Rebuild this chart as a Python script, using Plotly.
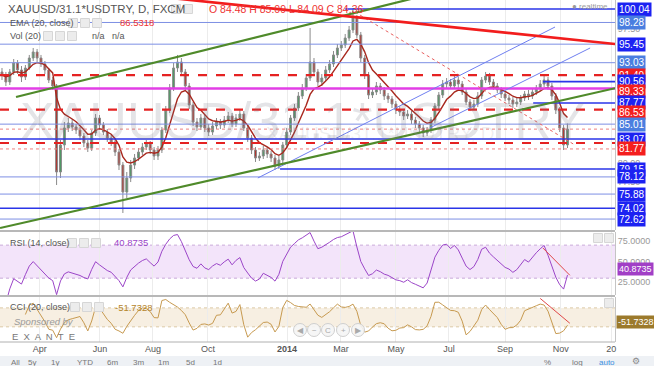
import plotly.graph_objects as go
import pandas as pd
import numpy as np

# ---------------- data (3-session bars) ----------------
opens = [91.82, 91.42, 90.51, 91.82, 92.99, 92.08, 91.16, 92.34, 93.64, 94.43,
         93.64, 92.86, 92.08, 90.77, 89.99, 78.76, 82.29, 84.51, 85.16, 84.64,
         84.24, 83.46, 82.55, 81.89, 83.85, 85.81, 84.90, 83.98, 83.20, 82.68,
         81.37, 79.67, 76.15, 77.98, 79.67, 80.59, 81.37, 82.02, 82.42, 81.63,
         80.85, 81.63, 84.24, 86.85, 89.73, 92.34, 93.12, 91.82, 89.99, 87.51,
         85.29, 84.64, 85.81, 84.51, 83.98, 84.77, 85.29, 84.90, 85.55, 86.07,
         85.03, 85.81, 86.33, 84.51, 83.20, 81.63, 80.59, 80.85, 81.63, 81.11,
         80.59, 79.54, 80.33, 82.29, 83.98, 85.81, 87.12, 88.68, 89.73, 91.03,
         93.12, 91.82, 90.51, 91.03, 92.08, 92.86, 94.04, 94.95, 95.34, 96.25,
         97.30, 98.87, 96.65, 93.64, 91.42, 88.81, 89.20, 89.99, 89.47, 88.68,
         88.29, 87.64, 86.85, 86.59, 86.07, 86.33, 85.55, 85.03, 84.51, 83.85,
         84.24, 85.55, 87.38, 88.81, 90.25, 90.51, 89.99, 90.77, 90.25, 89.20,
         87.90, 87.25, 87.64, 88.68, 90.77, 91.29, 90.51, 89.99, 89.47, 88.94,
         88.42, 88.16, 87.64, 87.90, 88.42, 88.94, 88.68, 89.20, 89.73, 90.25,
         90.77, 89.99, 88.68, 86.85, 84.51, 82.29]
highs = [92.34, 91.82, 92.21, 93.51, 93.38, 92.60, 92.73, 94.04, 94.95, 94.82,
         94.04, 93.25, 92.34, 91.16, 90.25, 82.94, 85.29, 85.81, 85.68, 85.03,
         84.64, 83.85, 82.94, 84.24, 86.33, 86.20, 85.29, 84.37, 83.59, 83.07,
         81.76, 80.07, 78.76, 80.33, 81.11, 81.89, 82.55, 82.94, 82.81, 82.02,
         82.16, 84.64, 87.38, 90.25, 92.99, 94.04, 93.64, 92.21, 90.38, 87.90,
         85.81, 86.33, 86.20, 85.03, 85.29, 85.81, 85.68, 86.07, 86.59, 86.46,
         86.33, 86.85, 86.72, 84.90, 83.59, 82.02, 81.37, 82.16, 82.02, 81.50,
         80.98, 80.85, 82.68, 84.51, 86.20, 87.64, 89.20, 90.25, 91.55, 97.56,
         93.64, 92.21, 91.55, 92.60, 93.38, 94.56, 95.47, 95.86, 96.78, 97.82,
         100.17, 99.26, 97.04, 94.04, 91.82, 89.73, 90.51, 90.38, 89.86, 89.07,
         88.68, 88.03, 87.38, 86.98, 86.85, 86.72, 85.94, 85.42, 84.90, 84.64,
         85.94, 87.77, 89.20, 90.77, 91.03, 90.90, 91.29, 91.16, 90.64, 89.59,
         88.29, 88.16, 89.20, 91.16, 91.82, 91.69, 90.90, 90.38, 89.86, 89.33,
         88.81, 88.55, 88.42, 88.81, 89.33, 89.47, 89.73, 90.12, 90.77, 91.29,
         91.16, 90.38, 89.07, 87.25, 84.90, 85.09]
lows = [90.77, 89.99, 90.12, 91.42, 91.55, 90.51, 90.77, 92.08, 93.25, 93.12,
        92.47, 91.55, 90.38, 89.47, 77.06, 77.98, 81.63, 83.98, 84.11, 83.72,
        82.94, 82.02, 81.37, 81.50, 83.46, 84.51, 83.59, 82.68, 82.16, 80.85,
        79.02, 73.41, 75.37, 77.45, 79.15, 80.20, 80.98, 81.63, 81.11, 80.33,
        80.33, 81.24, 83.85, 86.46, 89.33, 91.82, 91.29, 89.47, 86.98, 84.77,
        84.11, 84.24, 83.98, 83.46, 83.59, 84.37, 84.37, 84.51, 85.16, 84.64,
        84.64, 85.42, 84.11, 82.68, 81.11, 80.07, 80.20, 80.46, 80.59, 80.07,
        79.02, 79.15, 79.94, 81.89, 83.59, 85.42, 86.72, 88.29, 89.33, 90.64,
        91.29, 89.99, 89.99, 90.64, 91.69, 92.47, 93.64, 94.56, 94.95, 95.86,
        96.90, 96.25, 93.12, 90.90, 88.29, 88.42, 88.81, 88.94, 88.16, 87.77,
        87.12, 86.33, 86.07, 85.55, 85.68, 85.03, 84.51, 83.98, 83.33, 83.46,
        83.85, 85.16, 86.98, 88.42, 89.73, 89.59, 89.59, 89.73, 88.81, 87.51,
        86.72, 86.85, 87.25, 88.29, 90.38, 90.12, 89.47, 89.07, 88.42, 88.03,
        87.64, 87.12, 87.25, 87.51, 88.03, 88.16, 88.29, 88.81, 89.33, 89.86,
        89.47, 88.16, 86.33, 83.98, 81.63, 81.89]
closes = [91.42, 90.51, 91.82, 92.99, 92.08, 91.16, 92.34, 93.64, 94.43, 93.64,
          92.86, 92.08, 90.77, 89.99, 78.76, 82.29, 84.51, 85.16, 84.64, 84.24,
          83.46, 82.55, 81.89, 83.85, 85.81, 84.90, 83.98, 83.20, 82.68, 81.37,
          79.67, 76.15, 77.98, 79.67, 80.59, 81.37, 82.02, 82.42, 81.63, 80.85,
          81.63, 84.24, 86.85, 89.73, 92.34, 93.12, 91.82, 89.99, 87.51, 85.29,
          84.64, 85.81, 84.51, 83.98, 84.77, 85.29, 84.90, 85.55, 86.07, 85.03,
          85.81, 86.33, 84.51, 83.20, 81.63, 80.59, 80.85, 81.63, 81.11, 80.59,
          79.54, 80.33, 82.29, 83.98, 85.81, 87.12, 88.68, 89.73, 91.03, 93.12,
          91.82, 90.51, 91.03, 92.08, 92.86, 94.04, 94.95, 95.34, 96.25, 97.30,
          98.87, 96.65, 93.64, 91.42, 88.81, 89.20, 89.99, 89.47, 88.68, 88.29,
          87.64, 86.85, 86.59, 86.07, 86.33, 85.55, 85.03, 84.51, 83.85, 84.24,
          85.55, 87.38, 88.81, 90.25, 90.51, 89.99, 90.77, 90.25, 89.20, 87.90,
          87.25, 87.64, 88.68, 90.77, 91.29, 90.51, 89.99, 89.47, 88.94, 88.42,
          88.16, 87.64, 87.90, 88.42, 88.94, 88.68, 89.20, 89.73, 90.25, 90.77,
          89.99, 88.68, 86.85, 84.51, 82.29, 84.36]

tick_pos = [9.7, 25.1, 38.7, 52.8, 73.1, 86.9, 101.0, 114.6, 129.0, 143.3, 156.2]
tick_text = ['Apr', 'Jun', 'Aug', 'Oct', '<b>2014</b>', 'Mar', 'May', 'Jul', 'Sep', 'Nov', '20']

# price-scale labels on the right
label_values = [100.04, 98.28, 95.45, 93.03, 91.40, 90.56, 89.33, 87.77, 86.53,
                85.01, 83.07, 81.77, 79.15, 78.12, 75.88, 74.02, 72.62]
label_kinds = ['d', 'l', 'd', 'l', 'r', 'd', 'r', 'd', 'r',
               'l', 'd', 'r', 'd', 'd', 'd', 'd', 'd']
grey_ticks = [75.0, 77.5, 80.0, 97.5]

# horizontal drawing levels: (price, start bar)
blue_levels = [(100.04, 88.0), (98.28, -1), (95.45, -1), (93.03, -1), (90.56, 138.7),
               (87.77, 136.2), (85.01, -1), (83.07, -1), (79.15, 71.3), (78.12, -1),
               (75.88, -1), (74.02, -1), (72.62, -1)]
red_dashed_levels = [91.40, 86.90, 82.55]
red_dotted_levels = [84.36, 81.77]
magenta_level = 89.66

# trend lines: (bar0, price0, bar1, price1)
red_trend = (40.0, 101.65, 157.2, 95.47)
green_upper = (3.6, 88.55, 110.0, 102.0)
green_lower = (-0.5, 71.45, 157.2, 89.70)
blue_a = (65.6, 77.98, 141.8, 97.69)
blue_b = (109.7, 84.51, 150.8, 94.95)
red_dot_trend = (90.5, 99.65, 146.9, 82.29)
rsi_trend = (138.7, 66.5, 145.6, 33.5)
cci_trend = (138.0, 200.0, 145.6, -62.0)

# ---------------- indicators ----------------
c = pd.Series(closes)
h = pd.Series(highs)
l = pd.Series(lows)
ema = c.ewm(span=7, adjust=False).mean()
d = c.diff()
rsi_n = 8
up = d.clip(lower=0).ewm(alpha=1 / rsi_n, adjust=False).mean()
dn = (-d.clip(upper=0)).ewm(alpha=1 / rsi_n, adjust=False).mean()
rsi = 100 - 100 / (1 + up / dn)
tp = (h + l + c) / 3
per = 7
sma = tp.rolling(per).mean()
mad = tp.rolling(per).apply(lambda v: np.mean(np.abs(v - v.mean())), raw=True)
cci = (tp - sma) / (0.015 * mad)

x = list(range(len(closes)))

# ---------------- geometry ----------------
W, H = 654, 366
PR = 615


def px(v):
    return v / W


def py(v):
    return 1 - v / H


XR = [-0.51, 157.18]
FONT = 'Liberation Sans, Arial, sans-serif'

fig = go.Figure()
fig.add_trace(go.Candlestick(
    x=x, open=opens, high=highs, low=lows, close=closes, xaxis='x', yaxis='y',
    increasing=dict(fillcolor='#4e9a63', line=dict(color='#8a8a8a', width=1)),
    decreasing=dict(fillcolor='#b5302a', line=dict(color='#8a8a8a', width=1)),
    showlegend=False, hoverinfo='skip'))
fig.add_trace(go.Scatter(x=x, y=ema, mode='lines', line=dict(color='#a8281e', width=1.4),
                         xaxis='x', yaxis='y', showlegend=False, hoverinfo='skip'))
fig.add_trace(go.Scatter(x=x, y=rsi, mode='lines', line=dict(color='#9b45c8', width=1),
                         xaxis='x2', yaxis='y2', showlegend=False, hoverinfo='skip'))
fig.add_trace(go.Scatter(x=x, y=cci, mode='lines', line=dict(color='#c79a50', width=1),
                         xaxis='x3', yaxis='y3', showlegend=False, hoverinfo='skip'))

shapes = []
# indicator bands
shapes.append(dict(type='rect', xref='x2 domain', yref='y2', x0=0, x1=1, y0=30, y1=70,
                   fillcolor='#f3e4fa', line=dict(width=0), layer='below'))
for v in (30, 70):
    shapes.append(dict(type='line', xref='x2 domain', yref='y2', x0=0, x1=1, y0=v, y1=v,
                       line=dict(color='#c9a9d9', width=1, dash='dot'), layer='below'))
shapes.append(dict(type='rect', xref='x3 domain', yref='y3', x0=0, x1=1, y0=-100, y1=100,
                   fillcolor='#f7efe2', line=dict(width=0), layer='below'))
for v in (-100, 100):
    shapes.append(dict(type='line', xref='x3 domain', yref='y3', x0=0, x1=1, y0=v, y1=v,
                       line=dict(color='#dcc9a6', width=1, dash='dot'), layer='below'))

# horizontal levels
for lev, start in blue_levels:
    dark = lev in (100.04, 90.56, 83.07, 79.15, 74.02, 87.77)
    shapes.append(dict(type='line', xref='x', yref='y', x0=max(start, XR[0]), x1=XR[1], y0=lev, y1=lev,
                       line=dict(color='#2a35e8' if dark else '#7d8fe4', width=1.6 if dark else 1)))
for lev in red_dotted_levels:
    shapes.append(dict(type='line', xref='x', yref='y', x0=XR[0], x1=XR[1], y0=lev, y1=lev,
                       line=dict(color='#ee8080', width=1, dash='dot')))
shapes.append(dict(type='line', xref='x', yref='y', x0=XR[0], x1=XR[1], y0=magenta_level, y1=magenta_level,
                   line=dict(color='#e23ee6', width=2.5)))
for lev in red_dashed_levels:
    shapes.append(dict(type='line', xref='x', yref='y', x0=XR[0], x1=XR[1], y0=lev, y1=lev,
                       line=dict(color='#e52222', width=2.2, dash='dash')))


def seg(t, color, width, dash='solid', yref='y', xref='x'):
    return dict(type='line', xref=xref, yref=yref, x0=t[0], y0=t[1], x1=t[2], y1=t[3],
                line=dict(color=color, width=width, dash=dash))


shapes.append(seg(blue_a, '#6f7ff0', 1))
shapes.append(seg(blue_b, '#6f7ff0', 1))
shapes.append(seg(red_dot_trend, '#e86060', 1, 'dot'))
shapes.append(seg(green_upper, '#4f8a2a', 2.2))
shapes.append(seg(green_lower, '#4f8a2a', 2.2))
shapes.append(seg(red_trend, '#f21d1d', 2.6))
shapes.append(seg(rsi_trend, '#e04848', 1, yref='y2', xref='x2'))
shapes.append(seg(cci_trend, '#e04848', 1, yref='y3', xref='x3'))

# pane separators and toolbar
for yy in (231, 296):
    shapes.append(dict(type='line', xref='paper', yref='paper', x0=0, x1=px(PR), y0=py(yy), y1=py(yy),
                       line=dict(color='#b8b8b8', width=2)))
shapes.append(dict(type='rect', xref='paper', yref='paper', x0=0, x1=1, y0=0, y1=py(356),
                   fillcolor='#eef1f5', line=dict(width=0)))
# navigation buttons
for cx in (300, 314, 328, 343, 358):
    shapes.append(dict(type='circle', xref='paper', yref='paper', x0=px(cx - 6.5), x1=px(cx + 6.5),
                       y0=py(330 + 6.5), y1=py(330 - 6.5), fillcolor='rgba(245,245,245,0.9)',
                       line=dict(color='#cfcfcf', width=1)))
# small header buttons
for (bx, by) in [(176, 9), (188, 9), (73, 23), (85, 23), (97, 23), (48, 36), (60, 36), (72, 36),
                 (72, 243), (84, 243), (96, 243), (75, 307), (87, 307), (99, 307),
                 (598, 238), (609, 238), (609, 303)]:
    shapes.append(dict(type='rect', xref='paper', yref='paper', x0=px(bx - 4.5), x1=px(bx + 4.5),
                       y0=py(by + 4.5), y1=py(by - 4.5), fillcolor='#ececec', line=dict(color='#d6d6d6', width=1)))

ann = []
# watermark
ann.append(dict(text='XAUUSD/31.1*USDTRY', x=px(302), y=py(90), xref='paper', yref='paper', showarrow=False,
                font=dict(family=FONT, size=52, color='rgba(120,120,135,0.2)')))
ann.append(dict(text='XAUUSD/31.1*USDTRY, D', x=px(380), y=py(133), xref='paper', yref='paper', showarrow=False,
                font=dict(family=FONT, size=19, color='rgba(120,120,135,0.13)')))

# right labels
kind_color = {'d': '#1c22f2', 'l': '#4a7ee0', 'r': '#f41e1e'}
for v, k in zip(label_values, label_kinds):
    ann.append(dict(text='%.2f' % v, x=px(PR + 2), y=v, xref='paper', yref='y', xanchor='left',
                    yanchor='middle', showarrow=False, bgcolor=kind_color[k], borderpad=1,
                    font=dict(family=FONT, size=10, color='white')))
ann.append(dict(text='40.8735', x=px(PR + 2), y=40.87, xref='paper', yref='y2', xanchor='left',
                yanchor='middle', showarrow=False, bgcolor='#a13fc6', borderpad=1,
                font=dict(family=FONT, size=9, color='white')))
ann.append(dict(text='-51.7328', x=px(PR + 1), y=-51.73, xref='paper', yref='y3', xanchor='left',
                yanchor='middle', showarrow=False, bgcolor='#9c7a2c', borderpad=1,
                font=dict(family=FONT, size=9, color='white')))


def txt(s, x0, y0, size=11, color='#555', anchor='left', **kw):
    ann.append(dict(text=s, x=px(x0), y=py(y0), xref='paper', yref='paper', xanchor=anchor, yanchor='middle',
                    showarrow=False, font=dict(family=FONT, size=size, color=color), **kw))


txt('XAUUSD/31.1*USDTRY, D, FXCM', 6, 9, 11.5, '#555')
txt('O 84.48 H 85.09 L 84.09 C 84.36', 207, 9, 10.5, '#e33')
txt('EMA (20, close)', 8, 23, 9, '#555')
txt('86.5318', 118, 23, 9.5, '#e33')
txt('Vol (20)', 8, 36, 9, '#555')
txt('n/a   n/a', 90, 36, 9, '#555')
txt('\u25cf realtime', 570, 6, 8, '#9a9a9a')
txt('RSI (14, close)', 8, 243, 9, '#555')
txt('40.8735', 112, 243, 9.5, '#9b45c8')
txt('CCI (20, close)', 8, 307, 9, '#555')
txt('-51.7328', 113, 307, 9.5, '#b5862d')
txt('<i>Sponsored by</i>', 12, 321, 9.5, '#9a9a9a')
txt('E  X  A  N  T  E', 10, 336, 9.5, '#777')
for cx, s in zip((300, 314, 328, 343, 358), ('\u25c0', '\u2212', 'C', '+', '\u25b6')):
    txt(s, cx, 330, 8, '#aaa', anchor='center')
for s, xx in zip(['All', '5y', '1y', 'YTD', '6m', '3m', '1m', '5d', '1d'],
                 [15, 32, 55, 85, 112, 138, 163, 190, 217]):
    txt(s, xx, 362, 8, '#777', anchor='center')
txt('%', 547, 362, 8, '#777', anchor='center')
txt('log', 577, 362, 8, '#777', anchor='center')
txt('auto', 607, 362, 8, '#3b8fe0', anchor='center')
txt('\u2699', 636, 361, 9, '#888', anchor='center')

common_x = dict(range=XR, domain=[0, px(PR)], tickvals=tick_pos, showgrid=True, gridcolor='#ececec',
                gridwidth=1, zeroline=False, showline=False, ticks='', fixedrange=True)
fig.update_layout(
    width=W, height=H, margin=dict(l=0, r=0, t=0, b=0),
    paper_bgcolor='white', plot_bgcolor='white', showlegend=False,
    font=dict(family=FONT),
    xaxis=dict(**common_x, anchor='y', showticklabels=False, rangeslider=dict(visible=False)),
    xaxis2=dict(**common_x, anchor='y2', showticklabels=False, matches='x'),
    xaxis3=dict(**common_x, anchor='y3', showticklabels=True, matches='x', ticktext=tick_text,
                tickfont=dict(size=9, color='#555')),
    yaxis=dict(domain=[py(230), 1], range=[71.19, 101.215], side='right', tickvals=grey_ticks,
               ticktext=['%.2f' % t for t in grey_ticks], tickfont=dict(size=9, color='#999'),
               showgrid=False, zeroline=False, showline=True, linecolor='#c4c4c4', ticks='', anchor='x'),
    yaxis2=dict(domain=[py(295), py(232)], range=[9.6, 85.9], side='right', tickvals=[25, 50, 75],
                ticktext=['25.0000', '50.0000', '75.0000'], tickfont=dict(size=9, color='#999'),
                showgrid=False, zeroline=False, showline=True, linecolor='#c4c4c4', ticks='', anchor='x2'),
    yaxis3=dict(domain=[py(342), py(297)], range=[-260, 215], side='right', showticklabels=False,
                showgrid=False, zeroline=False, showline=True, linecolor='#c4c4c4', ticks='', anchor='x3'),
    shapes=shapes, annotations=ann,
)
fig.add_shape(type='line', xref='paper', yref='paper', x0=0, x1=px(PR), y0=py(342), y1=py(342),
              line=dict(color='#b0b0b0', width=1))
fig.write_html('out.html')
